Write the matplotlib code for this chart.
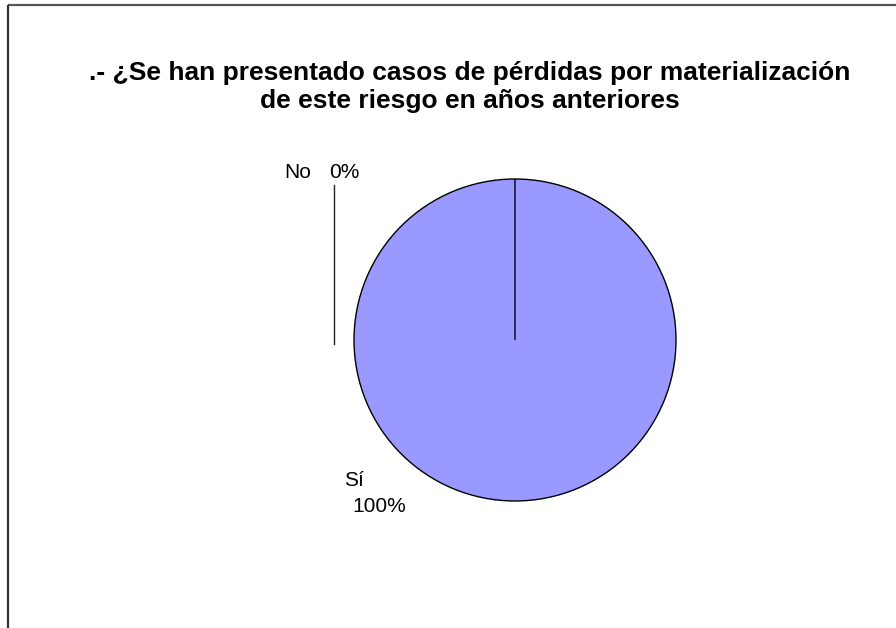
import matplotlib.pyplot as plt

plt.rcParams['font.family'] = ['Liberation Sans', 'DejaVu Sans']

# answer shares
categories = ['Sí', 'No']
values = [100, 0]
title = '.- ¿Se han presentado casos de pérdidas por materialización\nde este riesgo en años anteriores'

W, H = 896, 628
fig = plt.figure(figsize=(W / 100, H / 100), dpi=100)
ax = fig.add_axes([0, 0, 1, 1])

# chart area frame (top and left edges visible)
ax.plot([8, W + 5], [H - 5, H - 5], color='#555555', lw=1.6, solid_capstyle='butt')
ax.plot([8, 8], [H - 5, -5], color='#333333', lw=1.6, solid_capstyle='butt')

cx, cy, r = 515, H - 340, 161
ax.pie(values, center=(cx, cy), radius=r, startangle=90, counterclock=False,
       colors=['#9999FF', '#9999FF'],
       wedgeprops=dict(edgecolor='black', linewidth=1.0), frame=True)
ax.set_xlim(0, W)
ax.set_ylim(0, H)
ax.set_aspect('equal')
ax.axis('off')

total = sum(values)
pct = [f'{v / total * 100:.0f}%' for v in values]

# labels
ax.text(344, H - 481, categories[0], fontsize=15, ha='left', va='center')
ax.text(352, H - 506, pct[0], fontsize=15, ha='left', va='center')
ax.text(284, H - 172, categories[1], fontsize=15, ha='left', va='center')
ax.text(329, H - 172, pct[1], fontsize=15, ha='left', va='center')

# leader line for the empty slice
ax.plot([334, 334], [H - 185, H - 344], color='#222222', lw=1.0)

fig.text(470 / W, 1 - 87 / H, title, fontsize=19, fontweight='bold',
         ha='center', va='center', linespacing=1.17)

fig.savefig('out.png', dpi=100, facecolor='white')
